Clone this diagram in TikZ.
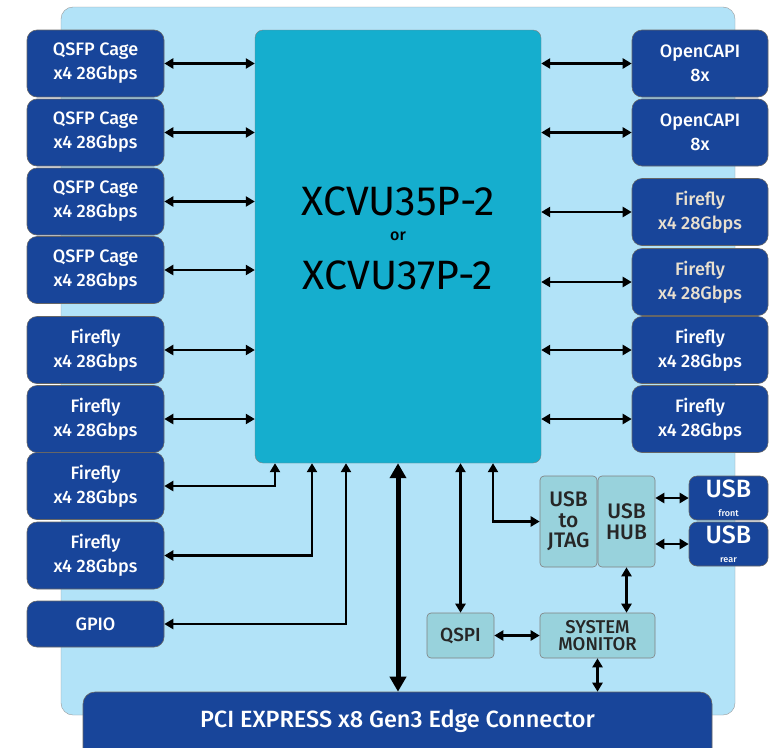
\documentclass[tikz,border=0pt]{standalone}
\usepackage{fontspec}
\setmainfont{Fira Sans}[BoldFont={Fira Sans Medium}]
\usetikzlibrary{arrows.meta}

\definecolor{boardblue}{HTML}{B2E3F8}
\definecolor{portblue}{HTML}{18459A}
\definecolor{fpgateal}{HTML}{15AECE}
\definecolor{chipteal}{HTML}{98D2DC}
\definecolor{paletext}{HTML}{E9E0CF}

\begin{document}
\begin{tikzpicture}[x=1pt,y=-1pt,
  port/.style={draw=black!60,line width=0.6pt,fill=portblue,text=white,
    rounded corners=10pt,minimum width=137pt,minimum height=67pt,
    inner sep=0pt,align=center,font=\fontsize{18}{24}\selectfont\bfseries},
  chip/.style={draw=black!50,line width=0.6pt,fill=chipteal,text=black!85,
    rounded corners=4pt,inner sep=0pt,align=center},
  link/.style={line width=2.6pt,
    {Triangle[length=9pt,width=10pt]}-{Triangle[length=9pt,width=10pt]}},
  biglink/.style={line width=5pt,
    {Triangle[length=15pt,width=16pt]}-{Triangle[length=15pt,width=16pt]}}]

  \fill[white] (0,0) rectangle (773,747);
  \useasboundingbox (0,0) rectangle (773,747);
  \draw[black!40,fill=boardblue,rounded corners=12pt] (61,7) rectangle (735,715);

  % FPGA
  \node[draw=black!50,fill=fpgateal,rounded corners=8pt,
    minimum width=286pt,minimum height=433pt] (fpga) at (398,246.5) {};
  \node[font=\fontsize{41}{41}\selectfont] (part1) at (398,201) {XCVU35P-2};
  \node[font=\fontsize{16}{16}\selectfont\bfseries] (or) at (398,236) {or};
  \node[font=\fontsize{41}{41}\selectfont] (part2) at (398,275) {XCVU37P-2};

  % left side
  \node[port] (qsfp1) at (95.5,63.5) {QSFP Cage\\x4 28Gbps};
  \node[port] (qsfp2) at (95.5,132.5) {QSFP Cage\\x4 28Gbps};
  \node[port] (qsfp3) at (95.5,201.5) {QSFP Cage\\x4 28Gbps};
  \node[port] (qsfp4) at (95.5,270) {QSFP Cage\\x4 28Gbps};
  \node[port] (ffl1) at (95.5,350) {Firefly\\x4 28Gbps};
  \node[port] (ffl2) at (95.5,419) {Firefly\\x4 28Gbps};
  \node[port] (ffl3) at (95.5,486) {Firefly\\x4 28Gbps};
  \node[port] (ffl4) at (95.5,555.5) {Firefly\\x4 28Gbps};
  \node[port,minimum height=46pt] (gpio) at (95.5,624) {GPIO};

  % right side
  \node[port,minimum width=136pt] (capi1) at (700,63.5) {OpenCAPI\\8x};
  \node[port,minimum width=136pt] (capi2) at (700,132.5) {OpenCAPI\\8x};
  \node[port,minimum width=136pt,text=paletext] (ffr1) at (700,212) {Firefly\\x4 28Gbps};
  \node[port,minimum width=136pt,text=paletext] (ffr2) at (700,282) {Firefly\\x4 28Gbps};
  \node[port,minimum width=136pt] (ffr3) at (700,350) {Firefly\\x4 28Gbps};
  \node[port,minimum width=136pt] (ffr4) at (700,419) {Firefly\\x4 28Gbps};

  % usb and management
  \node[chip,minimum width=57pt,minimum height=91pt,
    font=\fontsize{21}{20.5}\selectfont\bfseries] (jtag) at (568.5,521.5) {USB\\to\\JTAG};
  \node[chip,minimum width=57pt,minimum height=91pt,
    font=\fontsize{21}{20.5}\selectfont\bfseries] (hub) at (626.5,521.5) {USB\\HUB};
  \node[port,minimum width=79pt,minimum height=44pt,rounded corners=8pt,
    font=\fontsize{25}{22}\selectfont\bfseries] (usbf) at (728.5,498)
    {USB\\[-3pt]{\fontsize{9}{9}\selectfont front}};
  \node[port,minimum width=79pt,minimum height=44pt,rounded corners=8pt,
    font=\fontsize{25}{22}\selectfont\bfseries] (usbr) at (728.5,544)
    {USB\\[-3pt]{\fontsize{9}{9}\selectfont rear}};
  \node[chip,minimum width=67pt,minimum height=45pt,
    font=\fontsize{19}{18}\selectfont\bfseries] (qspi) at (460.5,635.5) {QSPI};
  \node[chip,minimum width=115pt,minimum height=45pt,
    font=\fontsize{18.5}{17.5}\selectfont\bfseries] (sysmon) at (597.5,635.5) {SYSTEM\\MONITOR};

  % edge connector
  \node[port,minimum width=629pt,minimum height=90pt,rounded corners=12pt] (pcie) at (397.5,737) {};
  \node[text=white,font=\fontsize{23.5}{24}\selectfont\bfseries] (pcielabel) at (397.5,721)
    {PCI EXPRESS x8 Gen3 Edge Connector};

  % links
  \draw[link] (qsfp1.east) -- (qsfp1.east -| fpga.west);
  \draw[link] (qsfp2.east) -- (qsfp2.east -| fpga.west);
  \draw[link] (qsfp3.east) -- (qsfp3.east -| fpga.west);
  \draw[link] (qsfp4.east) -- (qsfp4.east -| fpga.west);
  \draw[link] (ffl1.east) -- (ffl1.east -| fpga.west);
  \draw[link] (ffl2.east) -- (ffl2.east -| fpga.west);
  \draw[link] (fpga.south -| 275,0) |- (ffl3.east);
  \draw[link] (fpga.south -| 312,0) |- (ffl4.east);
  \draw[link] (fpga.south -| 346,0) |- (gpio.east);

  \draw[link] (capi1.west -| fpga.east) -- (capi1.west);
  \draw[link] (capi2.west -| fpga.east) -- (capi2.west);
  \draw[link] (ffr1.west -| fpga.east) -- (ffr1.west);
  \draw[link] (ffr2.west -| fpga.east) -- (ffr2.west);
  \draw[link] (ffr3.west -| fpga.east) -- (ffr3.west);
  \draw[link] (ffr4.west -| fpga.east) -- (ffr4.west);

  \draw[biglink] (fpga.south) -- (fpga.south |- pcie.north);
  \draw[link] (qspi.north |- fpga.south) -- (qspi.north);
  \draw[link] (fpga.south -| 493,0) |- (jtag.west);
  \draw[link] (hub.east |- usbf.west) -- (usbf.west);
  \draw[link] (hub.east |- usbr.west) -- (usbr.west);
  \draw[link] (hub.south) -- (hub.south |- sysmon.north);
  \draw[link] (qspi.east) -- (qspi.east -| sysmon.west);
  \draw[link] (sysmon.south) -- (sysmon.south |- pcie.north);
\end{tikzpicture}
\end{document}
